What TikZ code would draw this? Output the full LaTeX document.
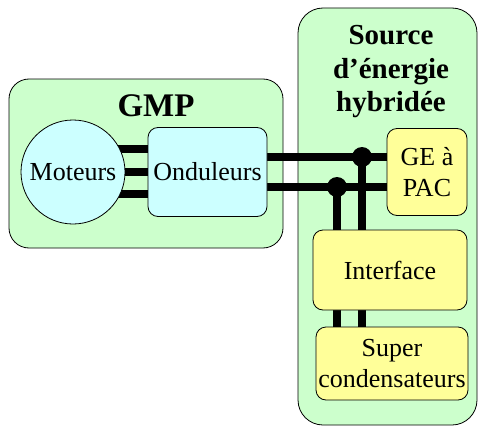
\documentclass[tikz,border=0pt]{standalone}
\usepackage{fontspec}
\setmainfont{Liberation Serif}
\usetikzlibrary{positioning,backgrounds}
\definecolor{vertclair}{HTML}{CCFFCC}
\definecolor{cyanclair}{HTML}{CCFFFF}
\definecolor{jaune}{HTML}{FFFF99}

\begin{document}
\begin{tikzpicture}[
  x=1pt, y=-1pt,
  bloc/.style={draw, fill=vertclair, line width=0.8pt, inner sep=0pt},
  elem/.style={draw, line width=0.8pt, rounded corners=10pt, align=center, inner sep=0pt, font=\fontsize{26}{31}\selectfont},
  titre/.style={align=center, inner sep=0pt, font=\bfseries\fontsize{29}{33.5}\selectfont},
  wire/.style={line width=8pt},
  dot/.style={circle, fill=black, minimum size=20pt, inner sep=0pt}
]
\useasboundingbox (0,0) rectangle (479,428);
\begin{scope}[on background layer]
\node[bloc, rounded corners=20pt, minimum width=274pt, minimum height=169pt] (gmp) at (146,163.5) {};
\node[bloc, rounded corners=25pt, minimum width=179pt, minimum height=417pt] (src) at (387.5,216.5) {};
\end{scope}
\node[titre, font=\bfseries\fontsize{33}{36}\selectfont] (tgmp) at (156,106) {GMP};
\node[titre] (tsrc) at (391,72) {Source\\d’énergie\\hybridée};

\node[elem, circle, rounded corners=0pt, fill=cyanclair, minimum size=104pt] (mot) at (73,172) {Moteurs};
\node[elem, fill=cyanclair, minimum width=119pt, minimum height=89pt] (ond) at (207.5,172) {Onduleurs};
\node[elem, fill=jaune, minimum width=80pt, minimum height=87pt] (ge) at (427,172) {GE à\\PAC};
\node[elem, fill=jaune, minimum width=154pt, minimum height=80pt] (int) at (390,270) {Interface};
\node[elem, fill=jaune, minimum width=152pt, minimum height=73pt] (sup) at (392,363.5) {Super\\condensateurs};

\coordinate (ja) at (362,157);
\coordinate (jb) at (337,187);

\begin{scope}[on background layer]
\foreach \dy in {23,0,-22}
  \draw[wire] ([yshift=\dy pt]mot.center) -- ([yshift=\dy pt]mot.center -| ond.west);
\draw[wire] (ond.east |- ja) -- (ge.west |- ja);
\draw[wire] (ond.east |- jb) -- (ge.west |- jb);
\draw[wire] (ja) -- (ja |- int.north);
\draw[wire] (jb) -- (jb |- int.north);
\draw[wire] (ja |- int.south) -- (ja |- sup.north);
\draw[wire] (jb |- int.south) -- (jb |- sup.north);
\end{scope}
\node[dot] (da) at (ja) {};
\node[dot] (db) at (jb) {};
\end{tikzpicture}
\end{document}
